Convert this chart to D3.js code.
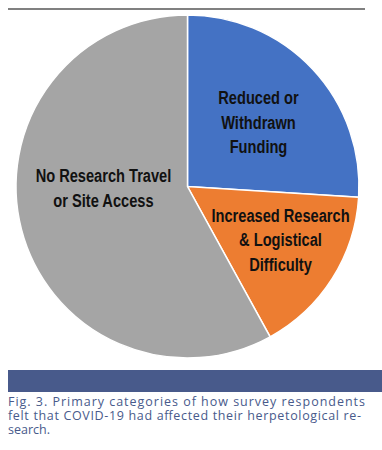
<!DOCTYPE html>
<html>
<head>
<meta charset="utf-8">
<script src="https://cdn.jsdelivr.net/npm/d3@7"></script>
<style>
  body { margin: 0; background: #fff; }
  svg { display: block; }
</style>
</head>
<body>
<div id="graphic"></div>
<script>
// slice data, clockwise from 12 o'clock
var categories = ["Reduced or Withdrawn Funding", "Increased Research & Logistical Difficulty", "No Research Travel or Site Access"];
var values = [26, 16, 58];
var colors = ["#4472C4", "#ED7D31", "#A5A5A5"];
var labelLines = [
  ["Reduced or", "Withdrawn", "Funding"],
  ["Increased Research", "& Logistical", "Difficulty"],
  ["No Research Travel", "or Site Access"]
];
var captionLines = [
  "Fig. 3. Primary categories of how survey respondents",
  "felt that COVID-19 had affected their herpetological re-",
  "search."
];

var width = 382, height = 450;
var cx = 187.5, cy = 186.5, radius = 171.5;

var svg = d3.select("#graphic").append("svg")
  .attr("width", width)
  .attr("height", height);

// top rule
svg.append("line")
  .attr("x1", 8).attr("x2", 365)
  .attr("y1", 9).attr("y2", 9)
  .attr("stroke", "#808080")
  .attr("stroke-width", 2);

var data = categories.map(function(c, i) { return {name: c, value: values[i], lines: labelLines[i]}; });

var pie = d3.pie()
  .sort(null)
  .value(function(d) { return d.value; });

var arc = d3.arc()
  .innerRadius(0)
  .outerRadius(radius);

var g = svg.append("g")
  .attr("transform", "translate(" + cx + "," + cy + ")");

var arcs = pie(data);

g.selectAll(".slice")
  .data(arcs)
  .enter().append("path")
  .attr("class", "slice")
  .attr("d", arc)
  .attr("fill", function(d, i) { return colors[i]; })
  .attr("stroke", "#fff")
  .attr("stroke-width", 1.5);

// label anchor: polar offset (fraction of radius, angle shift) from slice mid angle
var labelPos = [[0.561, 0.013], [0.623, -0.051], [0.49, 0.24]];
var lineH = 24.5;
var squeeze = 0.77;

g.selectAll(".label")
  .data(arcs)
  .enter().append("text")
  .attr("class", "label")
  .attr("text-anchor", "middle")
  .attr("font-family", "'Liberation Sans', Arial, sans-serif")
  .attr("font-weight", "bold")
  .attr("font-size", 19)
  .attr("fill", "#111")
  .each(function(d, i) {
    var a = (d.startAngle + d.endAngle) / 2 + labelPos[i][1];
    var r = radius * labelPos[i][0];
    var x = Math.sin(a) * r, y = -Math.cos(a) * r;
    var n = d.data.lines.length;
    var t = d3.select(this)
      .attr("transform", "translate(" + x + "," + y + ") scale(" + squeeze + ",1)");
    d.data.lines.forEach(function(line, j) {
      t.append("tspan")
        .attr("x", 0)
        .attr("y", (j - (n - 1) / 2) * lineH + 7)
        .text(line);
    });
  });

// caption band
svg.append("rect")
  .attr("x", 8).attr("y", 370)
  .attr("width", width - 8).attr("height", 22)
  .attr("fill", "#485A8B");

svg.append("g")
  .selectAll("text")
  .data(captionLines)
  .enter().append("text")
  .attr("x", 8)
  .attr("y", function(d, i) { return 406 + i * 14; })
  .attr("font-family", "'Open Sans', sans-serif")
  .attr("font-size", 12.5)
  .attr("fill", "#485A8B")
  .attr("textLength", function(d, i) { return i == 0 ? 357 : (i == 1 ? 353 : null); })
  .attr("lengthAdjust", "spacing")
  .text(function(d) { return d; });
</script>
</body>
</html>
